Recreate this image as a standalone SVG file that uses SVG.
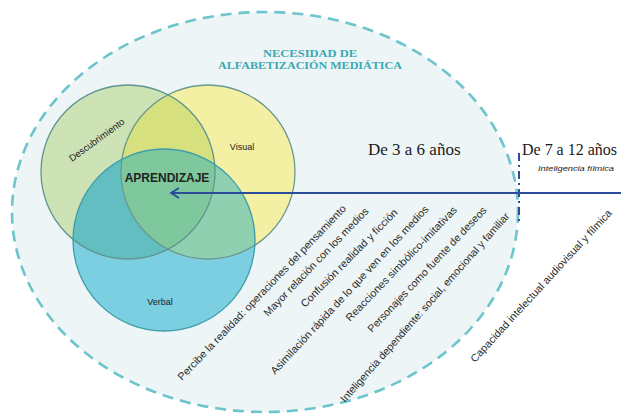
<svg xmlns="http://www.w3.org/2000/svg" width="621" height="418" viewBox="0 0 621 418">
  <style>
    .sans { font-family: "Liberation Sans", Arial, sans-serif; fill: #222; }
    .title { font-family: "Liberation Serif", "Times New Roman", serif; font-weight: bold; font-size: 11px; fill: #3aa8b2; }
    .age { font-family: "Liberation Serif", "Times New Roman", serif; font-size: 17px; fill: #1a1a1a; }
    .item { font-family: "Liberation Sans", Arial, sans-serif; font-size: 10.5px; fill: #2a2a2a; }
    .ring { fill: none; stroke-width: 1.3; }
  </style>
  <defs>
    <clipPath id="clipDesc"><circle cx="128" cy="172" r="87"/></clipPath>
    <clipPath id="clipVis"><circle cx="208" cy="172" r="87"/></clipPath>
    <marker id="chev" viewBox="0 0 10 12" refX="9" refY="6" markerWidth="10" markerHeight="12" markerUnits="userSpaceOnUse" orient="auto">
      <path d="M1,1 L9,6 L1,11" fill="none" stroke="#2b4b9b" stroke-width="1.8"/>
    </marker>
  </defs>

  <rect width="621" height="418" fill="#ffffff"/>

  <!-- outer dashed field -->
  <g id="field">
    <ellipse cx="265" cy="212" rx="253" ry="200" fill="#eef5f6" stroke="#6cc4cc" stroke-width="2.6" stroke-dasharray="11 7"/>
    <text class="title" x="310" y="57" text-anchor="middle" textLength="94" lengthAdjust="spacingAndGlyphs">NECESIDAD DE</text>
    <text class="title" x="310" y="69" text-anchor="middle" textLength="184" lengthAdjust="spacingAndGlyphs">ALFABETIZACIÓN MEDIÁTICA</text>
  </g>

  <!-- Venn: base discs, pairwise overlaps, triple overlap -->
  <g id="venn">
    <g id="descubrimiento">
      <circle cx="128" cy="172" r="87" fill="#cde3b6"/>
    </g>
    <g id="visual">
      <circle cx="208" cy="172" r="87" fill="#f3f0a3"/>
      <circle cx="208" cy="172" r="87" fill="#d7e07f" clip-path="url(#clipDesc)"/>
    </g>
    <g id="verbal">
      <circle cx="164" cy="240" r="91" fill="#7ccfe1"/>
      <circle cx="164" cy="240" r="91" fill="#62bec0" clip-path="url(#clipDesc)"/>
      <circle cx="164" cy="240" r="91" fill="#8fd0b0" clip-path="url(#clipVis)"/>
    </g>
    <g id="aprendizaje">
      <g clip-path="url(#clipDesc)">
        <circle cx="164" cy="240" r="91" fill="#7fc79c" clip-path="url(#clipVis)"/>
      </g>
    </g>
    <!-- outlines -->
    <circle class="ring" cx="128" cy="172" r="87" stroke="#5f948f"/>
    <circle class="ring" cx="208" cy="172" r="87" stroke="#6a9a8e"/>
    <circle class="ring" cx="164" cy="240" r="91" stroke="#3c9dab"/>

    <text class="sans" font-size="9.5" transform="translate(72,162) rotate(-36)">Descubrimiento</text>
    <text class="sans" font-size="9" x="242" y="150" text-anchor="middle">Visual</text>
    <text class="sans" font-size="12" font-weight="bold" x="167" y="182" text-anchor="middle" fill="#111">APRENDIZAJE</text>
    <text class="sans" font-size="9" x="160" y="305" text-anchor="middle">Verbal</text>
  </g>

  <!-- connectors -->
  <g id="connectors">
    <line x1="621" y1="193" x2="171" y2="193" stroke="#2b4b9b" stroke-width="1.8" marker-end="url(#chev)"/>
    <line x1="519" y1="153" x2="519" y2="223" stroke="#2b4b9b" stroke-width="2" stroke-dasharray="8 4 2 4"/>
  </g>

  <!-- age bands -->
  <g id="age-3-6">
    <text class="age" x="368" y="155">De 3 a 6 años</text>
    <text class="item" transform="translate(182,381) rotate(-46.2)" textLength="238" lengthAdjust="spacingAndGlyphs">Percibe la realidad: operaciones del pensamiento</text>
    <text class="item" transform="translate(268,317) rotate(-46.1)" textLength="146" lengthAdjust="spacingAndGlyphs">Mayor relación con los medios</text>
    <text class="item" transform="translate(305,308) rotate(-45.5)" textLength="133" lengthAdjust="spacingAndGlyphs">Confusión realidad y ficción</text>
    <text class="item" transform="translate(275,375) rotate(-47)" textLength="226" lengthAdjust="spacingAndGlyphs">Asimilación rápida de lo que ven en los medios</text>
    <text class="item" transform="translate(350,322) rotate(-46)" textLength="155" lengthAdjust="spacingAndGlyphs">Reacciones simbólico-imitativas</text>
    <text class="item" transform="translate(372,333) rotate(-46.7)" textLength="168" lengthAdjust="spacingAndGlyphs">Personajes como fuente de deseos</text>
    <text class="item" transform="translate(345,403) rotate(-48.5)" textLength="249" lengthAdjust="spacingAndGlyphs">Inteligencia dependiente: social, emocional y familiar</text>
  </g>
  <g id="age-7-12">
    <text class="age" x="522" y="155" font-size="15.5" textLength="95" lengthAdjust="spacingAndGlyphs">De 7 a 12 años</text>
    <text class="sans" font-size="8" font-style="italic" x="538" y="171" textLength="76" lengthAdjust="spacingAndGlyphs" fill="#333">Inteligencia fílmica</text>
    <text class="item" transform="translate(475,363) rotate(-47.4)" textLength="203" lengthAdjust="spacingAndGlyphs">Capacidad intelectual audiovisual y fílmica</text>
  </g>
</svg>
